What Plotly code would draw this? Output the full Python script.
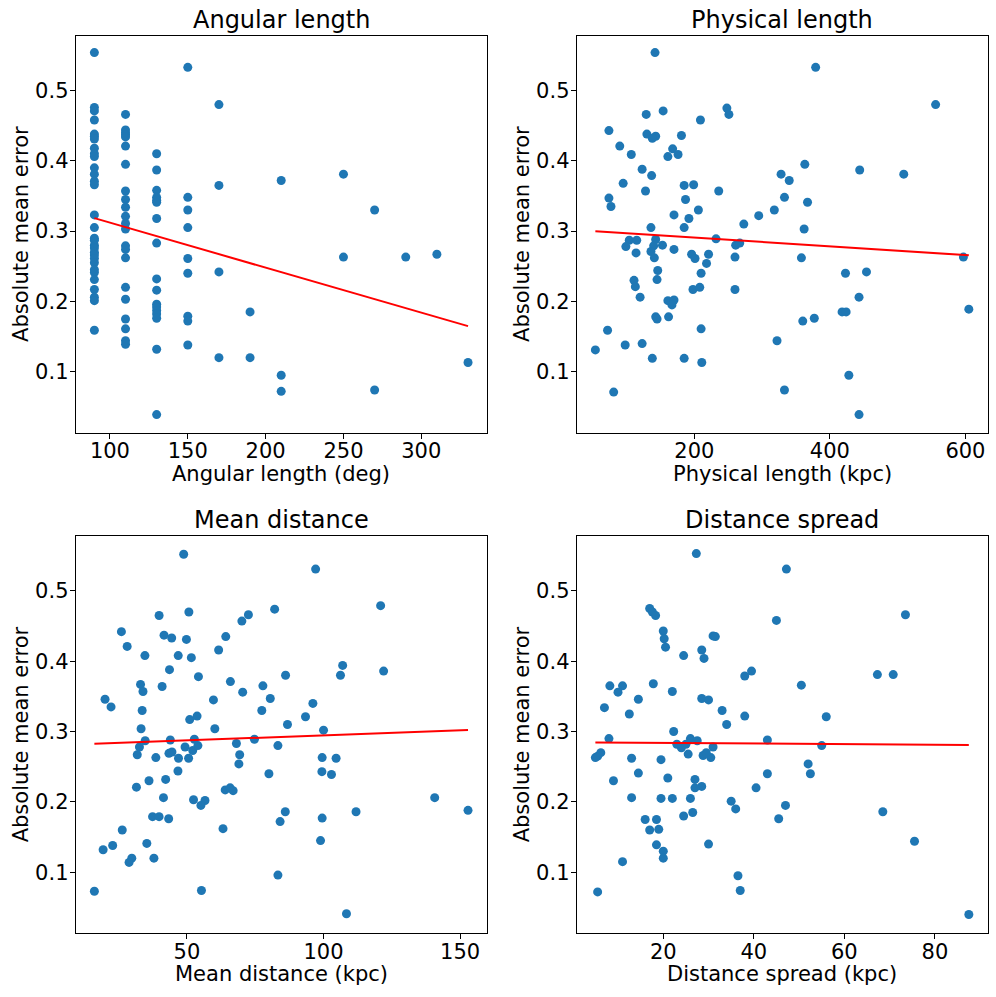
import numpy as np
import plotly.graph_objects as go

# ---------------- Panel 1: Angular length ----------------
ang_x = ([90]*31 + [110]*22 + [130]*17 + [150]*9 + [170]*4 + [190]*2 + [210]*3 +
         [250]*2 + [270]*2 + [290, 310, 330])
ang_y = [
    # 90 deg
    0.554, 0.476, 0.471, 0.458, 0.438, 0.435, 0.431, 0.418, 0.410, 0.406, 0.390, 0.381,
    0.371, 0.366, 0.323, 0.305, 0.290, 0.287, 0.280, 0.276, 0.270, 0.266, 0.261, 0.255,
    0.245, 0.241, 0.231, 0.217, 0.206, 0.201, 0.159,
    # 110 deg
    0.466, 0.444, 0.440, 0.437, 0.434, 0.421, 0.395, 0.357, 0.345, 0.334, 0.321, 0.311,
    0.303, 0.279, 0.274, 0.262, 0.220, 0.203, 0.175, 0.161, 0.144, 0.139,
    # 130 deg
    0.410, 0.387, 0.358, 0.348, 0.344, 0.341, 0.318, 0.283, 0.232, 0.216, 0.196, 0.192,
    0.187, 0.182, 0.176, 0.132, 0.039,
    # 150 deg
    0.533, 0.348, 0.330, 0.305, 0.261, 0.240, 0.179, 0.172, 0.138,
    # 170 deg
    0.480, 0.365, 0.242, 0.120,
    # 190 deg
    0.185, 0.120,
    # 210 deg
    0.372, 0.095, 0.072,
    # 250 / 270 / 290 / 310 / 330 deg
    0.381, 0.263, 0.330, 0.074, 0.263, 0.267, 0.113,
]

# ---------------- Panel 2: Physical length ----------------
phys_x = [
    142, 154, 129, 248, 251, 209, 74, 130, 143, 138, 181, 90, 168, 107, 176, 161, 123, 328,
    137, 95, 185, 199, 128, 236, 74, 187, 333, 77, 206, 318, 295, 170, 192, 273, 136, 185,
    104, 115, 99, 143, 140, 153, 136, 114, 170, 141, 232, 261, 267, 196, 201, 221, 260, 218,
    146, 145, 210, 111, 113, 120, 198, 208, 260, 161, 170, 167, 143, 145, 162, 210, 72, 54,
    98, 123, 322, 138, 185, 211, 81, 333,
    379, 556, 363, 444, 509, 340, 367, 362, 358, 597, 423, 454, 443, 605, 418, 424, 360,
    377, 428, 443,
]
phys_y = [
    0.554, 0.471, 0.466, 0.475, 0.466, 0.458, 0.443, 0.438, 0.435, 0.432, 0.436, 0.421,
    0.417, 0.409, 0.409, 0.406, 0.388, 0.381, 0.379, 0.368, 0.365, 0.366, 0.357, 0.357,
    0.347, 0.345, 0.348, 0.335, 0.330, 0.330, 0.322, 0.323, 0.318, 0.310, 0.305, 0.305,
    0.287, 0.287, 0.278, 0.288, 0.279, 0.280, 0.271, 0.269, 0.274, 0.262, 0.289, 0.280,
    0.283, 0.267, 0.261, 0.267, 0.263, 0.254, 0.244, 0.231, 0.240, 0.230, 0.221, 0.206,
    0.217, 0.220, 0.217, 0.201, 0.202, 0.195, 0.178, 0.175, 0.178, 0.161, 0.159, 0.131,
    0.138, 0.140, 0.144, 0.119, 0.119, 0.113, 0.071, 0.074,
    0.533, 0.480, 0.395, 0.387, 0.381, 0.372, 0.341, 0.303, 0.262, 0.263, 0.240, 0.242,
    0.206, 0.189, 0.185, 0.185, 0.172, 0.176, 0.095, 0.039,
]

# ---------------- Panel 3: Mean distance ----------------
mean_x = [
    48.8, 97.1, 120.9, 39.8, 50.7, 82.1, 72.5, 70.1, 26.0, 41.6, 44.4, 49.8, 64.2, 28.1,
    61.6, 34.6, 46.8, 51.6, 107.0, 122.0, 43.6, 54.2, 86.1, 106.2, 33.0, 40.9, 33.9, 65.9,
    70.4, 77.8, 20.0, 22.2, 59.7, 80.5, 96.1, 33.6, 77.4, 93.4, 51.0, 53.7, 33.2, 60.2,
    86.8, 100.0, 34.7, 43.9, 52.7, 74.7, 32.6, 49.3, 52.1, 54.0, 68.1, 83.3, 43.4, 44.5,
    31.8, 38.6, 46.9, 50.6, 69.3, 99.5, 104.6, 69.0, 46.7, 80.0, 99.4, 102.9, 36.1, 42.2,
    31.5, 64.0, 65.8, 66.9, 41.4, 52.4, 56.6, 55.1, 140.7, 152.9, 86.0, 111.9, 37.4, 39.8,
    43.3, 99.5, 84.1, 26.3, 63.2, 19.3, 22.8, 35.3, 98.9, 29.8, 28.8, 37.9, 83.3, 16.1,
    55.3, 108.4,
]
mean_y = [
    0.552, 0.531, 0.479, 0.465, 0.470, 0.474, 0.466, 0.457, 0.442, 0.437, 0.433, 0.431,
    0.435, 0.421, 0.416, 0.408, 0.408, 0.405, 0.394, 0.386, 0.388, 0.378, 0.380, 0.380,
    0.367, 0.364, 0.357, 0.371, 0.356, 0.365, 0.346, 0.335, 0.345, 0.347, 0.340, 0.330,
    0.330, 0.321, 0.317, 0.322, 0.304, 0.304, 0.310, 0.302, 0.287, 0.288, 0.289, 0.289,
    0.278, 0.278, 0.273, 0.280, 0.283, 0.280, 0.269, 0.271, 0.267, 0.263, 0.262, 0.262,
    0.267, 0.263, 0.262, 0.254, 0.244, 0.240, 0.243, 0.239, 0.230, 0.232, 0.221, 0.217,
    0.220, 0.216, 0.206, 0.203, 0.202, 0.195, 0.206, 0.188, 0.186, 0.186, 0.179, 0.179,
    0.176, 0.177, 0.172, 0.160, 0.162, 0.132, 0.138, 0.141, 0.145, 0.120, 0.114, 0.120,
    0.096, 0.073, 0.074, 0.041,
]

# ---------------- Panel 4: Distance spread ----------------
spread_x = [
    27.3, 47.2, 17.0, 17.6, 18.3, 73.5, 45.0, 20.0, 20.2, 20.5, 31.0, 31.5, 24.5, 28.5,
    29.0, 39.5, 38.0, 67.3, 70.8, 8.2, 11.0, 17.8, 22.0, 50.5, 10.0, 14.5, 28.5, 30.0,
    33.0, 34.0, 7.0, 12.5, 38.0, 56.0, 55.0, 22.3, 26.0, 31.0, 5.5, 8.0, 23.0, 24.0,
    25.0, 27.5, 28.8, 30.5, 43.0, 5.0, 6.2, 13.0, 19.5, 25.5, 29.5, 52.0, 21.0, 27.0,
    9.0, 14.5, 26.0, 28.5, 43.0, 40.5, 52.5, 19.5, 22.0, 35.0, 36.0, 45.5, 13.0, 24.5,
    18.5, 26.5, 27.0, 68.5, 75.5, 17.0, 16.0, 19.0, 18.5, 20.0, 11.0, 20.0, 36.5, 87.5,
    5.5, 37.0, 47.0, 30.0,
]
spread_y = [
    0.553, 0.531, 0.475, 0.470, 0.465, 0.466, 0.458, 0.443, 0.432, 0.420, 0.436, 0.435,
    0.408, 0.416, 0.404, 0.386, 0.379, 0.381, 0.381, 0.365, 0.365, 0.368, 0.357, 0.366,
    0.356, 0.346, 0.347, 0.345, 0.330, 0.310, 0.334, 0.325, 0.322, 0.321, 0.280, 0.300,
    0.290, 0.278, 0.265, 0.290, 0.282, 0.277, 0.282, 0.287, 0.266, 0.263, 0.288, 0.263,
    0.270, 0.262, 0.260, 0.268, 0.270, 0.254, 0.234, 0.232, 0.230, 0.241, 0.205, 0.222,
    0.240, 0.220, 0.240, 0.205, 0.205, 0.201, 0.190, 0.176, 0.206, 0.180, 0.175, 0.185,
    0.220, 0.186, 0.144, 0.160, 0.175, 0.161, 0.139, 0.130, 0.115, 0.120, 0.095, 0.040,
    0.072, 0.074, 0.195, 0.140,
]

panels = [
    ("Angular length", "Angular length (deg)", ang_x, ang_y, [100, 150, 200, 250, 300]),
    ("Physical length", "Physical length (kpc)", phys_x, phys_y, [200, 400, 600]),
    ("Mean distance", "Mean distance (kpc)", mean_x, mean_y, [50, 100, 150]),
    ("Distance spread", "Distance spread (kpc)", spread_x, spread_y, [20, 40, 60, 80]),
]

W, H = 996, 997
# plot-area boxes in pixels (left, right, top, bottom)
boxes = [
    (75.7, 486.7, 35.7, 432.7),
    (576.7, 987.5, 35.7, 432.7),
    (75.7, 486.7, 536.0, 933.3),
    (576.7, 987.5, 536.0, 933.3),
]

FONT = "DejaVu Sans"
TICK = 21
LABEL = 21
TITLE = 24
fig = go.Figure()
layout = dict(
    width=W, height=H, margin=dict(l=0, r=0, t=0, b=0),
    paper_bgcolor="white", plot_bgcolor="white", showlegend=False,
    font=dict(family=FONT, size=TICK, color="black"),
)
annotations = []

for i, (title, xlabel, xs, ys, xticks) in enumerate(panels):
    n = "" if i == 0 else str(i + 1)
    xa, ya = "x" + n, "y" + n
    xs_arr = np.array(xs, dtype=float)
    ys_arr = np.array(ys, dtype=float)
    fig.add_trace(go.Scatter(
        x=xs_arr, y=ys_arr, mode="markers", xaxis=xa, yaxis=ya,
        marker=dict(color="#1f77b4", size=9, line=dict(width=0)),
    ))
    slope, icpt = np.polyfit(xs_arr, ys_arr, 1)
    lx = np.array([xs_arr.min(), xs_arr.max()])
    fig.add_trace(go.Scatter(
        x=lx, y=slope * lx + icpt, mode="lines", xaxis=xa, yaxis=ya,
        line=dict(color="red", width=2),
    ))
    l, r, t, b = boxes[i]
    xmin, xmax = xs_arr.min(), xs_arr.max()
    pad = 0.05 * (xmax - xmin)
    layout["xaxis" + n] = dict(
        domain=[l / W, r / W], anchor=ya, range=[xmin - pad, xmax + pad],
        tickvals=xticks, ticks="outside", ticklen=5, tickwidth=1, tickcolor="black",
        showline=True, linecolor="black", linewidth=1, mirror=True,
        showgrid=False, zeroline=False, tickfont=dict(size=TICK),
        ticklabelstandoff=-6,
    )
    layout["yaxis" + n] = dict(
        domain=[1 - b / H, 1 - t / H], anchor=xa, range=[0.0132, 0.578],
        tickvals=[0.1, 0.2, 0.3, 0.4, 0.5], ticks="outside", ticklen=5, tickwidth=1,
        tickcolor="black", showline=True, linecolor="black", linewidth=1, mirror=True,
        showgrid=False, zeroline=False, tickfont=dict(size=TICK),
        ticklabelstandoff=-3,
    )
    annotations.append(dict(
        text=title, x=(l + r) / 2 / W, y=1 - (t - 16) / H, xref="paper", yref="paper",
        xanchor="center", yanchor="middle", showarrow=False, font=dict(size=TITLE),
    ))
    annotations.append(dict(
        text=xlabel, x=(l + r) / 2 / W, y=1 - (b + 41) / H, xref="paper", yref="paper",
        xanchor="center", yanchor="middle", showarrow=False, font=dict(size=LABEL),
    ))
    annotations.append(dict(
        text="Absolute mean error", x=(l - 55) / W, y=1 - (t + b) / 2 / H,
        xref="paper", yref="paper", xanchor="center", yanchor="middle",
        textangle=-90, showarrow=False, font=dict(size=LABEL),
    ))

layout["annotations"] = annotations
fig.update_layout(**layout)
fig.write_html("out.html", config={"displayModeBar": False},
               post_script="document.body.style.margin='0px';")
